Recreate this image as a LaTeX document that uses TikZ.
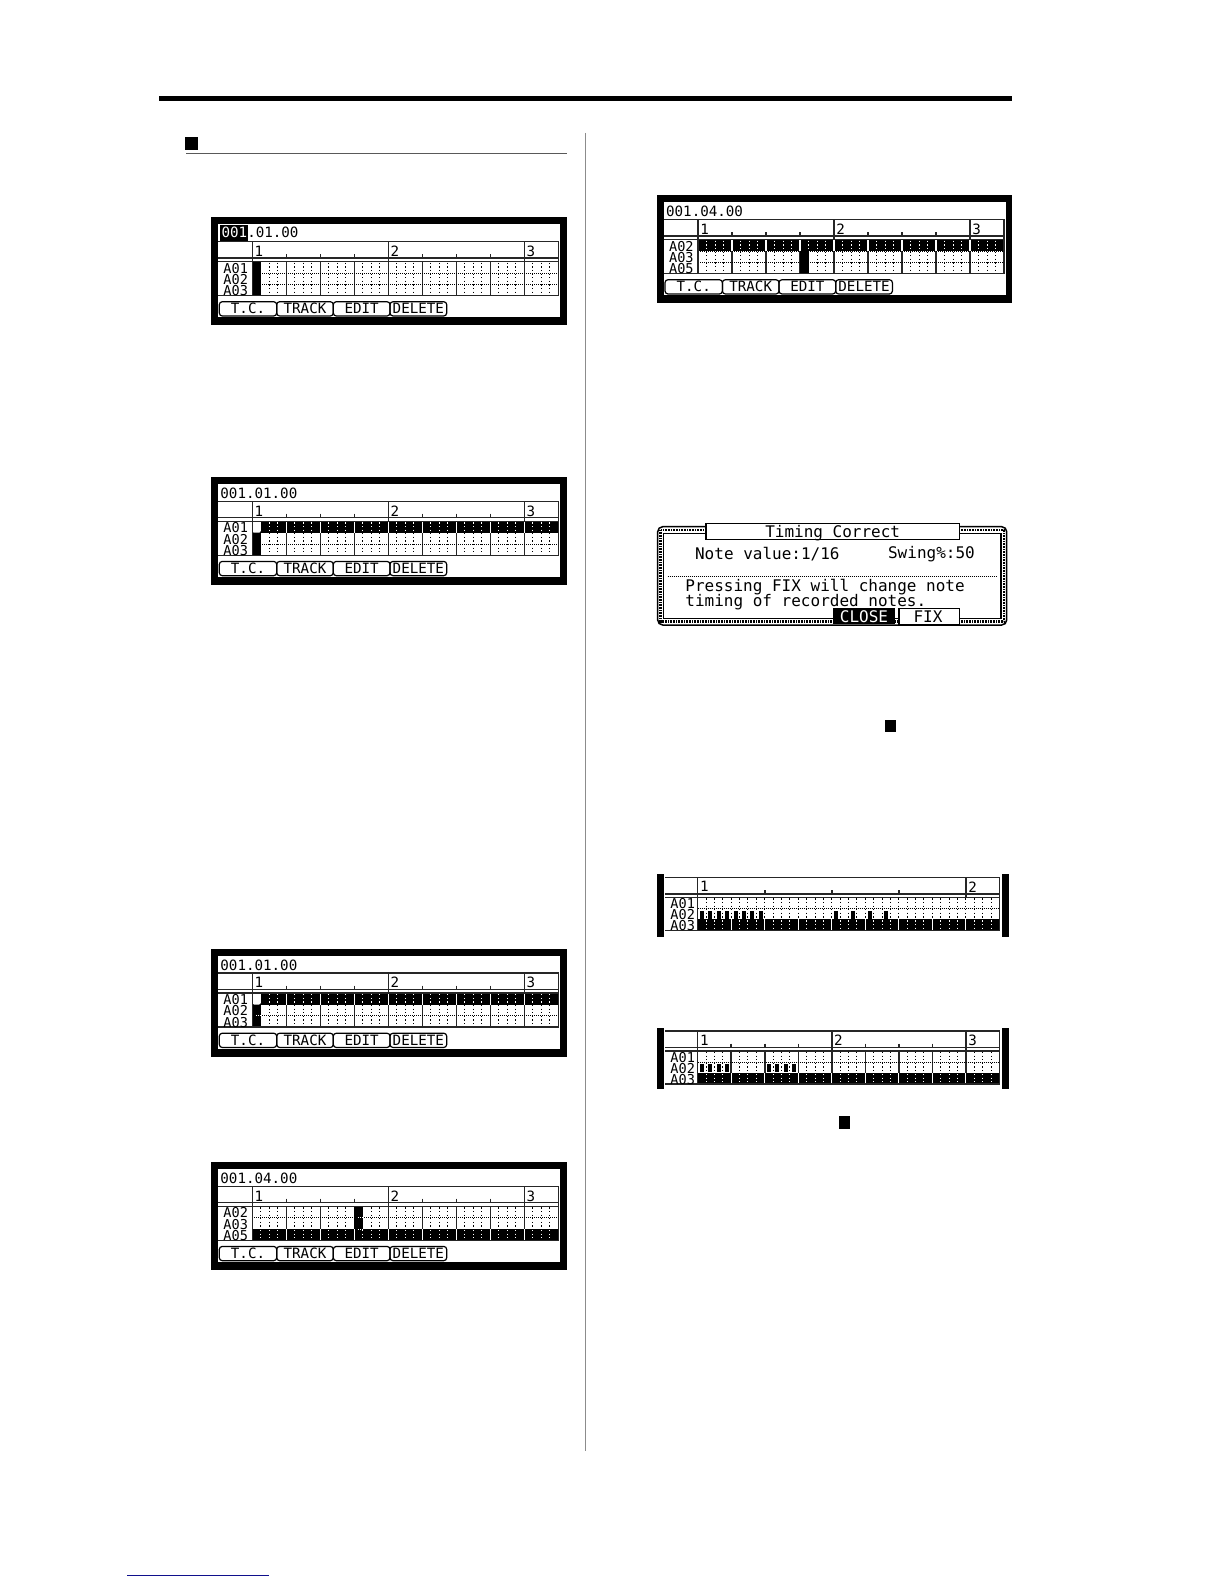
\documentclass[tikz,border=0pt]{standalone}
\usepackage{fontspec}
\setmonofont{DejaVu Sans Mono}

\definecolor{linknavy}{RGB}{16,16,140}
\tikzset{
    griddots/.style = {line width = 0.5pt, dash pattern = on 0.6pt off 1.2pt},
    rowdots/.style = {line width = 0.5pt, dash pattern = on 0.5pt off 0.5pt},
    tabline/.style = {line width = 0.75pt, black!85},
    lcdtext/.style = {font = \ttfamily\fontsize{7.1}{7.1}\selectfont, inner sep = 0pt},
    rowtext/.style = {font = \ttfamily\fontsize{6.8}{6.8}\selectfont, inner sep = 0pt},
    wintext/.style = {font = \ttfamily\fontsize{8}{8}\selectfont, inner sep = 0pt},
    softkey/.style = {draw, line width = 0.6pt, rounded corners = 1.5pt},
    marker/.style = {fill = black}
}

% table sizes
\newcommand{\screengeom}{\def\tabw{340.3}\def\colx{34.3}\def\hdrh{16.3}\def\dblh{3.7}\def\rowh{11.33}\def\subw{8.5}}
\newcommand{\stripgeom}{\def\tabw{334.4}\def\colx{32.7}\def\hdrh{16.7}\def\dblh{3.3}\def\rowh{11}\def\subw{8.38}}

% things that go in a row of the table
\newcommand{\blackrow}[1]{
    \pgfmathsetmacro\ry{\rowtop+(#1-1)*\rowh}
    \fill (\colx,\ry) rectangle (\tabw,\ry+\rowh);
    \foreach \s in {1,...,35}{
        \pgfmathsetmacro\sx{\colx+\s*\subw}
        \pgfmathtruncatemacro\ongap{mod(\s,4)}
        \ifnum\ongap=0
            \draw[white, line width = 0.6pt] (\sx,\ry) -- (\sx,\ry+\rowh);
        \else
            \draw[griddots, white] (\sx,\ry+1) -- (\sx,\ry+\rowh-1);
        \fi
    }
}
\newcommand{\blackcell}[2]{
    \pgfmathsetmacro\ry{\rowtop+(#1-1)*\rowh}
    \pgfmathsetmacro\sx{\colx+#2*\subw}
    \fill (\sx,\ry) rectangle (\sx+\subw,\ry+\rowh);
    \ifnum#1<3 \draw[rowdots, white] (\sx+4,\ry+\rowh) -- (\sx+\subw,\ry+\rowh); \fi
}
\newcommand{\whitecell}[2]{
    \pgfmathsetmacro\ry{\rowtop+(#1-1)*\rowh}
    \pgfmathsetmacro\sx{\colx+#2*\subw}
    \fill[white, rounded corners = 1pt] (\sx,\ry) rectangle (\sx+\subw,\ry+\rowh);
}
\newcommand{\noteblock}[2]{
    \pgfmathsetmacro\ry{\rowtop+(#1-1)*\rowh}
    \pgfmathsetmacro\sx{\colx+#2*\subw}
    \fill (\sx+2.3,\ry+2.2) rectangle (\sx+6.3,\ry+\rowh-0.7);
}

% #1 name, #2 origin, #3 row labels, #4 bar labels, #5 beat step, #6 bar step, #7 row contents
\newcommand{\seqtable}[7]{
    \begin{scope}[shift = {(#2)}]
        \pgfmathsetmacro\rowtop{\hdrh+\dblh}
        \pgfmathsetmacro\tabh{\rowtop+3*\rowh}
        \foreach \s in {1,...,35}{
            \pgfmathsetmacro\sx{\colx+\s*\subw}
            \pgfmathtruncatemacro\onbeat{mod(\s,#5)}
            \pgfmathtruncatemacro\onbar{mod(\s,#6)}
            \draw[griddots] (\sx,\rowtop+1) -- (\sx,\tabh-1);
            \ifnum\onbeat=0
                \draw[tabline] (\sx,\hdrh-4) -- (\sx,\hdrh);
                \ifnum#5=4 \draw[tabline] (\sx,\rowtop) -- (\sx,\tabh); \fi
            \fi
            \ifnum\onbar=0 \draw[tabline] (\sx,0) -- (\sx,\hdrh+\dblh); \fi
        }
        \foreach \r in {1,2}
            \draw[rowdots] (\colx,\rowtop+\r*\rowh) -- (\tabw,\rowtop+\r*\rowh);
        #7
        \draw[tabline] (0,0) -- (\tabw,0) -- (\tabw,\tabh) -- (0,\tabh)
            (0,\hdrh) -- (\tabw,\hdrh)
            (0,\rowtop) -- (\tabw,\rowtop)
            (\colx,0) -- (\colx,\tabh);
        \foreach \r/\txt in {#3}
            \node[rowtext, anchor = west] (#1-row\r) at (5,\rowtop+\r*\rowh-0.5*\rowh+0.7) {\txt};
        \foreach \b/\txt in {#4}
            \node[lcdtext, anchor = west] (#1-bar\txt) at (\colx+\b*\subw+2,9.5) {\txt};
    \end{scope}
}

% #1 name, #2 origin, #3 time, #4 row labels, #5 row contents
\newcommand{\lcdscreen}[5]{
    \begin{scope}[shift = {(#2)}]
        \screengeom
        \fill (0,0) rectangle (355.5,108);
        \fill[white] (7,7) rectangle (349,100.3);
        \node[lcdtext, anchor = west] (#1-time) at (9,16.5) {#3};
        \seqtable{#1}{7,24.7}{#4}{0/1,16/2,32/3}{4}{16}{#5}
        \foreach \bx/\bw/\txt/\nm in {8.3/57.4/T.C./tc, 65.7/56.6/TRACK/track, 122.3/56.7/EDIT/edit, 179/56.7/DELETE/delete}{
            \draw[softkey] (\bx,84.7) rectangle (\bx+\bw,99);
            \node[lcdtext] (#1-\nm) at (\bx+0.5*\bw,91.7) {\txt};
        }
    \end{scope}
}

% #1 name, #2 origin, #3 height, #4 bar labels, #5 beat step, #6 bar step, #7 row contents
\newcommand{\lcdstrip}[7]{
    \begin{scope}[shift = {(#2)}]
        \stripgeom
        \fill (0,0) rectangle (6.7,#3);
        \fill (344.7,0) rectangle (352,#3);
        \seqtable{#1}{8,3.3}{1/A01,2/A02,3/A03}{#4}{#5}{#6}{#7}
    \end{scope}
}

\newcommand{\hlbox}[1]{{\setlength{\fboxsep}{0.6pt}\colorbox{black}{\textcolor{white}{\rule[-1.5pt]{0pt}{7pt}#1}}}}

\begin{document}
\begin{tikzpicture}[x = 0.5pt, y = -0.5pt]
    \useasboundingbox (0,0) rectangle (1224,1584);

    % page furniture
    \fill (159,96) rectangle (1012,101.3);
    \fill (185,137) rectangle (198,150);
    \draw[line width = 0.6pt, black!65] (186,153.3) -- (566.7,153.3);
    \draw[line width = 0.6pt, black!45] (585.3,133) -- (585.3,1450.7);
    \draw[line width = 0.6pt, linknavy] (127,1575.3) -- (269,1575.3);

    % left column
    \lcdscreen{one}{211,217}{\hlbox{001}\hspace{-0.6pt}.01.00}{1/A01,2/A02,3/A03}{
        \blackcell{1}{0} \blackcell{2}{0} \blackcell{3}{0}
    }
    \lcdscreen{two}{211,476.7}{001.01.00}{1/A01,2/A02,3/A03}{
        \blackrow{1} \whitecell{1}{0} \blackcell{2}{0} \blackcell{3}{0}
    }
    \lcdscreen{three}{211,948.5}{001.01.00}{1/A01,2/A02,3/A03}{
        \blackrow{1} \whitecell{1}{0} \blackcell{2}{0} \blackcell{3}{0}
    }
    \lcdscreen{four}{211,1161.7}{001.04.00}{1/A02,2/A03,3/A05}{
        \blackrow{3} \blackcell{1}{12} \blackcell{2}{12}
    }

    % right column
    \lcdscreen{five}{656.7,195}{001.04.00}{1/A02,2/A03,3/A05}{
        \blackrow{1} \blackcell{2}{12} \blackcell{3}{12}
    }

    \draw[line width = 0.75pt, rounded corners = 2.5pt] (657.7,526.7) rectangle (1006.7,625);
    \draw[line width = 1.3pt, dash pattern = on 0.4pt off 0.4pt] (660.5,530) rectangle (1004,621.7);
    \draw[line width = 0.75pt, fill = white] (663.3,533.3) rectangle (1001,618.3);
    \draw[line width = 0.75pt, fill = white] (706,523.3) rectangle (959.3,539.3);
    \node[wintext] (title) at (832.7,533.5) {Timing Correct};
    \node[wintext, anchor = west] (noteval) at (694.7,553.7) {Note value:1/16};
    \node[wintext, anchor = west] (swing) at (887.7,554.5) {Swing\%:50};
    \draw[rowdots] (667.7,576.3) -- (997.7,576.3);
    \node[wintext, anchor = west] (press) at (685,586.7) {Pressing FIX will change note};
    \node[wintext, anchor = west] (timing) at (685,601.7) {timing of recorded notes.};
    \fill (833.3,608.3) rectangle (895,624.3);
    \node[wintext, text = white] (close) at (864,616.3) {CLOSE};
    \draw[line width = 0.75pt, fill = white] (899,608.3) rectangle (959.3,624.3);
    \node[wintext] (fix) at (928,616.3) {FIX};

    \fill (885,720) rectangle (896,731.5);

    \lcdstrip{six}{657,874}{62.7}{0/1,32/2}{8}{32}{
        \blackrow{3}
        \foreach \n in {0,...,7} {\noteblock{2}{\n}}
        \foreach \n in {16,18,20,22} {\noteblock{2}{\n}}
    }
    \lcdstrip{seven}{657,1027.7}{61.6}{0/1,16/2,32/3}{4}{16}{
        \blackrow{3}
        \foreach \n in {0,1,2,3,8,9,10,11} {\noteblock{2}{\n}}
    }

    \fill (839,1115.7) rectangle (850,1129);
\end{tikzpicture}
\end{document}
